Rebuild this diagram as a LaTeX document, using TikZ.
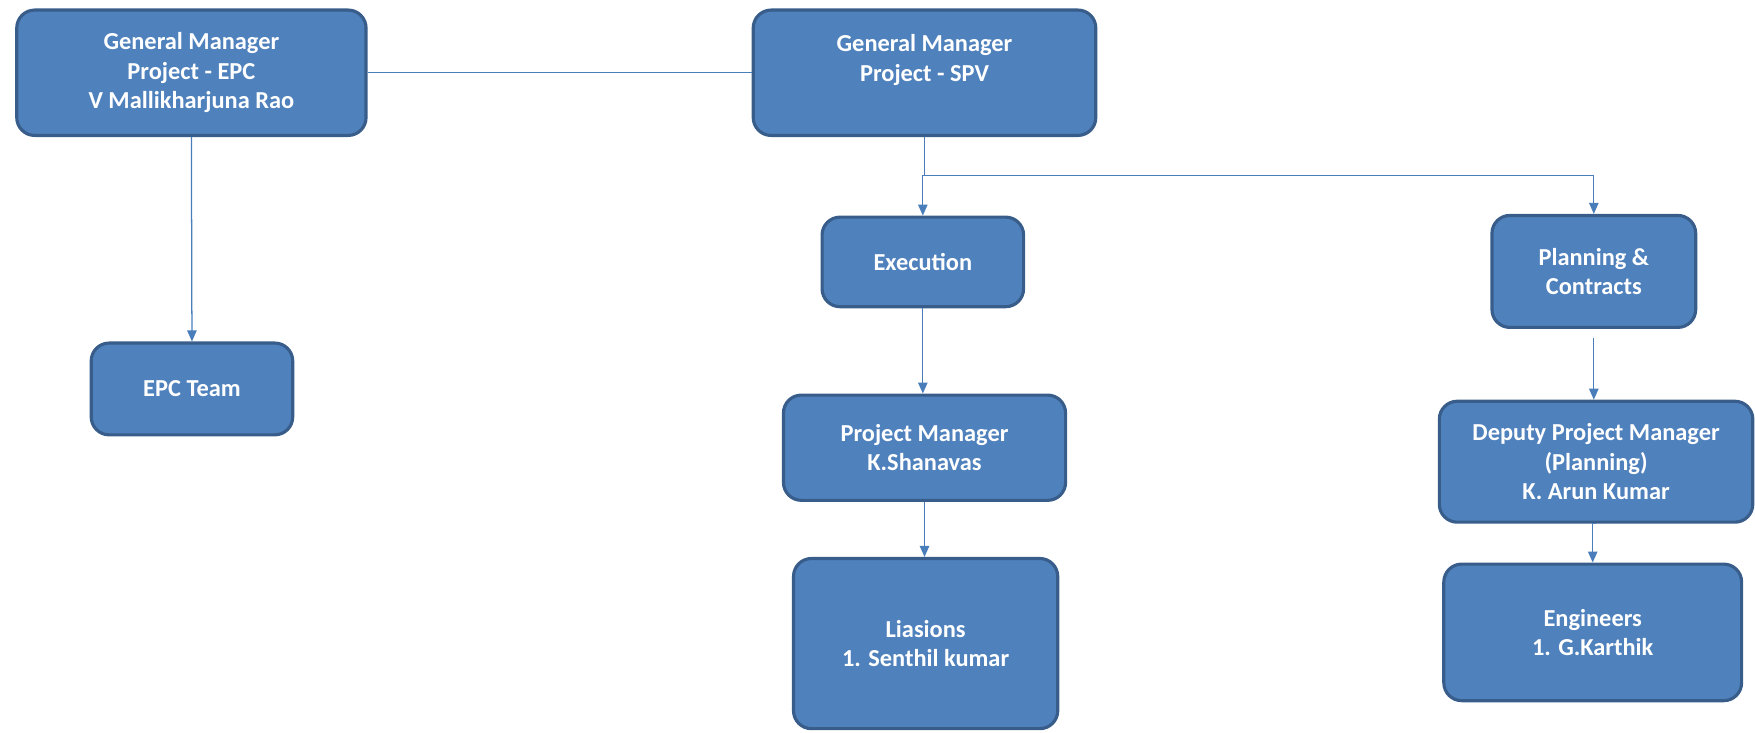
\documentclass[tikz,border=0pt]{standalone}
\usepackage{fontspec}
\setmainfont{Carlito}
\usetikzlibrary{arrows.meta}
\definecolor{boxfill}{HTML}{4F81BD}
\definecolor{boxline}{HTML}{385D8A}
\definecolor{linkline}{HTML}{4A7EBB}

\begin{document}
\begin{tikzpicture}[x=0.025cm,y=-0.025cm,
    post/.style={draw=boxline,fill=boxfill,line width=2pt,rounded corners=0.4cm,
      align=center,text=white,font=\fontsize{15.5}{18.8}\selectfont\bfseries,inner sep=0pt},
    link/.style={draw=linkline,line width=0.8pt},
    tolink/.style={link,-{Triangle[width=6pt,length=7pt]}}]
      \useasboundingbox (0,0) rectangle (1568,654) ;
      \node[post,minimum width=7.8cm,minimum height=2.8cm] %
      (gmepc) at (171,65) {General Manager\\Project - EPC\\V Mallikharjuna Rao} ;
      \node[post,minimum width=7.65cm,minimum height=2.8cm] %
      (gmspv) at (826,65) {General Manager\\Project - SPV\\\phantom{X}} ;
      \node[post,minimum width=4.5cm,minimum height=2cm] (exec) at (824.5,234) {Execution} ;
      \node[post,minimum width=4.55cm,minimum height=2.5cm] (plan) at (1424,242.5) {Planning \&\\Contracts} ;
      \node[post,minimum width=4.5cm,minimum height=2.05cm] (epcteam) at (171.5,347.5) {EPC Team} ;
      \node[post,minimum width=6.3cm,minimum height=2.35cm] (pm) at (826,400) {Project Manager\\K.Shanavas} ;
      \node[post,minimum width=7cm,minimum height=2.7cm] %
      (dpm) at (1426,412.5) {Deputy Project Manager\\(Planning)\\K. Arun Kumar} ;
      \node[post,minimum width=5.9cm,minimum height=3.8cm] (liais) at (827,575) {Liasions\\1. Senthil kumar} ;
      \node[post,minimum width=6.65cm,minimum height=3.05cm] (eng) at (1423,565) {Engineers\\1. G.Karthik} ;
      \coordinate (split) at (826,157) ;
      \draw[link] (gmepc.east) -- (gmspv.west) ;
      \draw[tolink] (gmepc.south) -- (epcteam.north) ;
      \draw[link] (gmspv.south) -- (split) ;
      \draw[tolink] (split) -| (exec.north) ;
      \draw[tolink] (split) -| (plan.north) ;
      \draw[tolink] (exec.south) -- (exec.south |- pm.north) ;
      \draw[tolink] (pm.south) -- (pm.south |- liais.north) ;
      \draw[tolink,shorten <=6pt] (plan.south) -- (plan.south |- dpm.north) ;
      \draw[tolink] (dpm.south) -- (dpm.south -| eng.north) -- (eng.north) ;
    \end{tikzpicture}
\end{document}
